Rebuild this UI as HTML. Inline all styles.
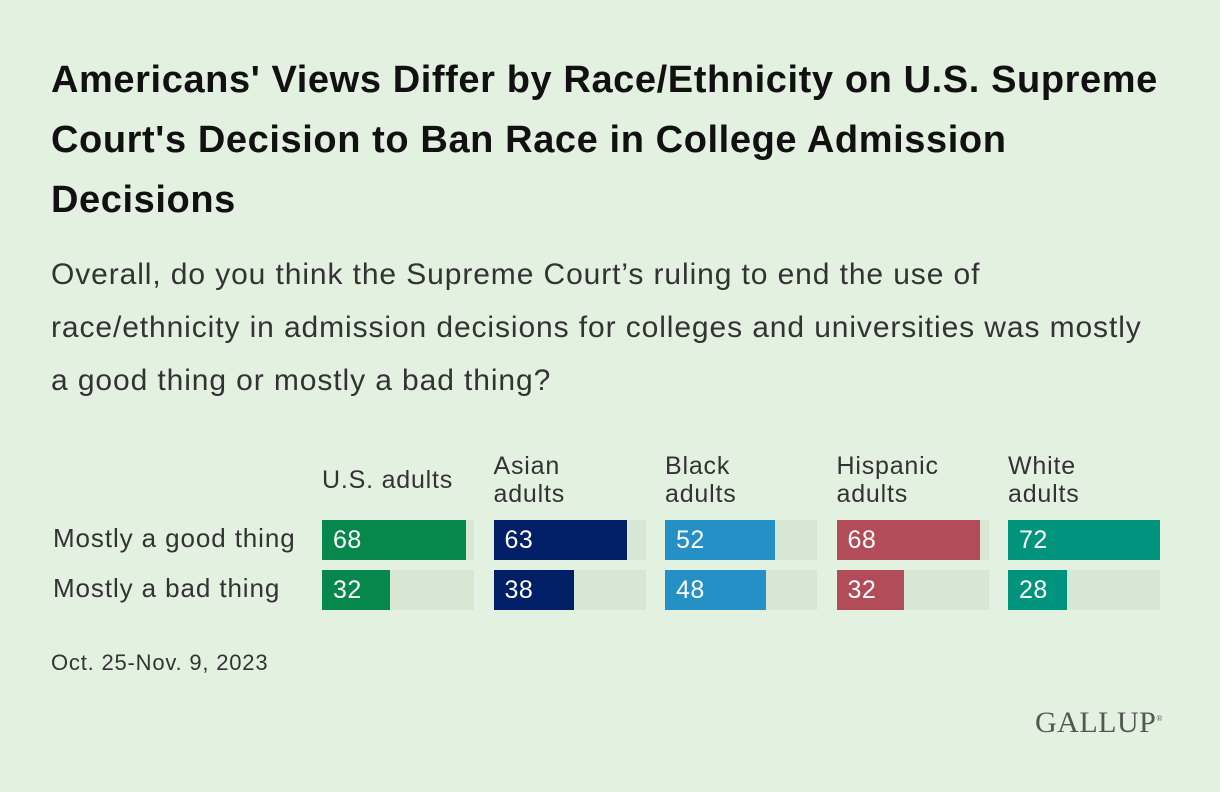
<!DOCTYPE html>
<html><head><meta charset="utf-8"><style>
body{margin:0;width:1220px;height:792px;background:#e3f1e0;font-family:"Liberation Sans",sans-serif;color:#222;position:relative;overflow:hidden}
#title{position:absolute;left:51px;top:50px;white-space:nowrap;font-weight:bold;font-size:38px;line-height:60px;color:#111;margin:0;letter-spacing:0.6px}
#sub{position:absolute;left:51px;top:248px;white-space:nowrap;font-size:30px;line-height:53px;color:#333;margin:0;letter-spacing:0.9px}
#date{position:absolute;left:51px;top:650px;font-size:22px;color:#333;letter-spacing:0.8px}
#logo{position:absolute;left:1035px;top:706px;font-family:"Liberation Serif",serif;font-size:30px;color:#555;letter-spacing:0.5px}
</style></head><body>
<h1 id="title">Americans' Views Differ by Race/Ethnicity on U.S. Supreme<br>Court's Decision to Ban Race in College Admission<br>Decisions</h1>
<p id="sub">Overall, do you think the Supreme Court’s ruling to end the use of<br>race/ethnicity in admission decisions for colleges and universities was mostly<br>a good thing or mostly a bad thing?</p>
<div id="chart"></div>
<div id="date">Oct. 25-Nov. 9, 2023</div>
<div id="logo">GALLUP<sup style="font-size:8px">®</sup></div>
<script>
const groups=["U.S. adults","Asian adults","Black adults","Hispanic adults","White adults"];
const rows=["Mostly a good thing","Mostly a bad thing"];
const goodVals=[68,63,52,68,72];
const badVals=[32,38,48,32,28];
const colors=["#06874b","#001f67","#2490c6","#b24c59","#00947f"];
const maxVal=Math.max(...goodVals,...badVals);
const x0=322,gap=171.5,trackW=152,barH=40,rowY=[520,570];
const sx=v=>v/maxVal*trackW;
const c=document.getElementById('chart');
function mk(tag,css,txt){const e=document.createElement(tag);e.style.cssText=css;if(txt!==undefined)e.textContent=txt;c.appendChild(e);return e;}
rows.forEach((r,i)=>{
 const e=mk('div',`position:absolute;left:53px;top:${rowY[i]+2}px;font-size:26px;letter-spacing:0.9px;line-height:32px;color:#333;white-space:nowrap`,r);
 
 
});
groups.forEach((g,j)=>{
 const x=x0+j*gap;
 const parts=g.split(' ');
 const lab=mk('div',`position:absolute;left:${x}px;top:${j==0?466:452}px;font-size:25px;letter-spacing:0.8px;line-height:28px;color:#333;width:165px;white-space:nowrap`);
 lab.innerHTML=j==0?g:parts[0]+'<br>'+parts[1];
 
 
 [goodVals[j],badVals[j]].forEach((v,i)=>{
  const tr=mk('div',`position:absolute;left:${x}px;top:${rowY[i]}px;width:${trackW}px;height:${barH}px;background:#d6e7d4`);
  
  
  const b=mk('div',`position:absolute;left:${x}px;top:${rowY[i]}px;width:${sx(v)}px;height:${barH}px;background:${colors[j]};color:#fff;font-size:25px;letter-spacing:0.5px;line-height:40px;box-sizing:border-box;padding-left:11px`,String(v));
  
  
 });
});
</script>
</body></html>
